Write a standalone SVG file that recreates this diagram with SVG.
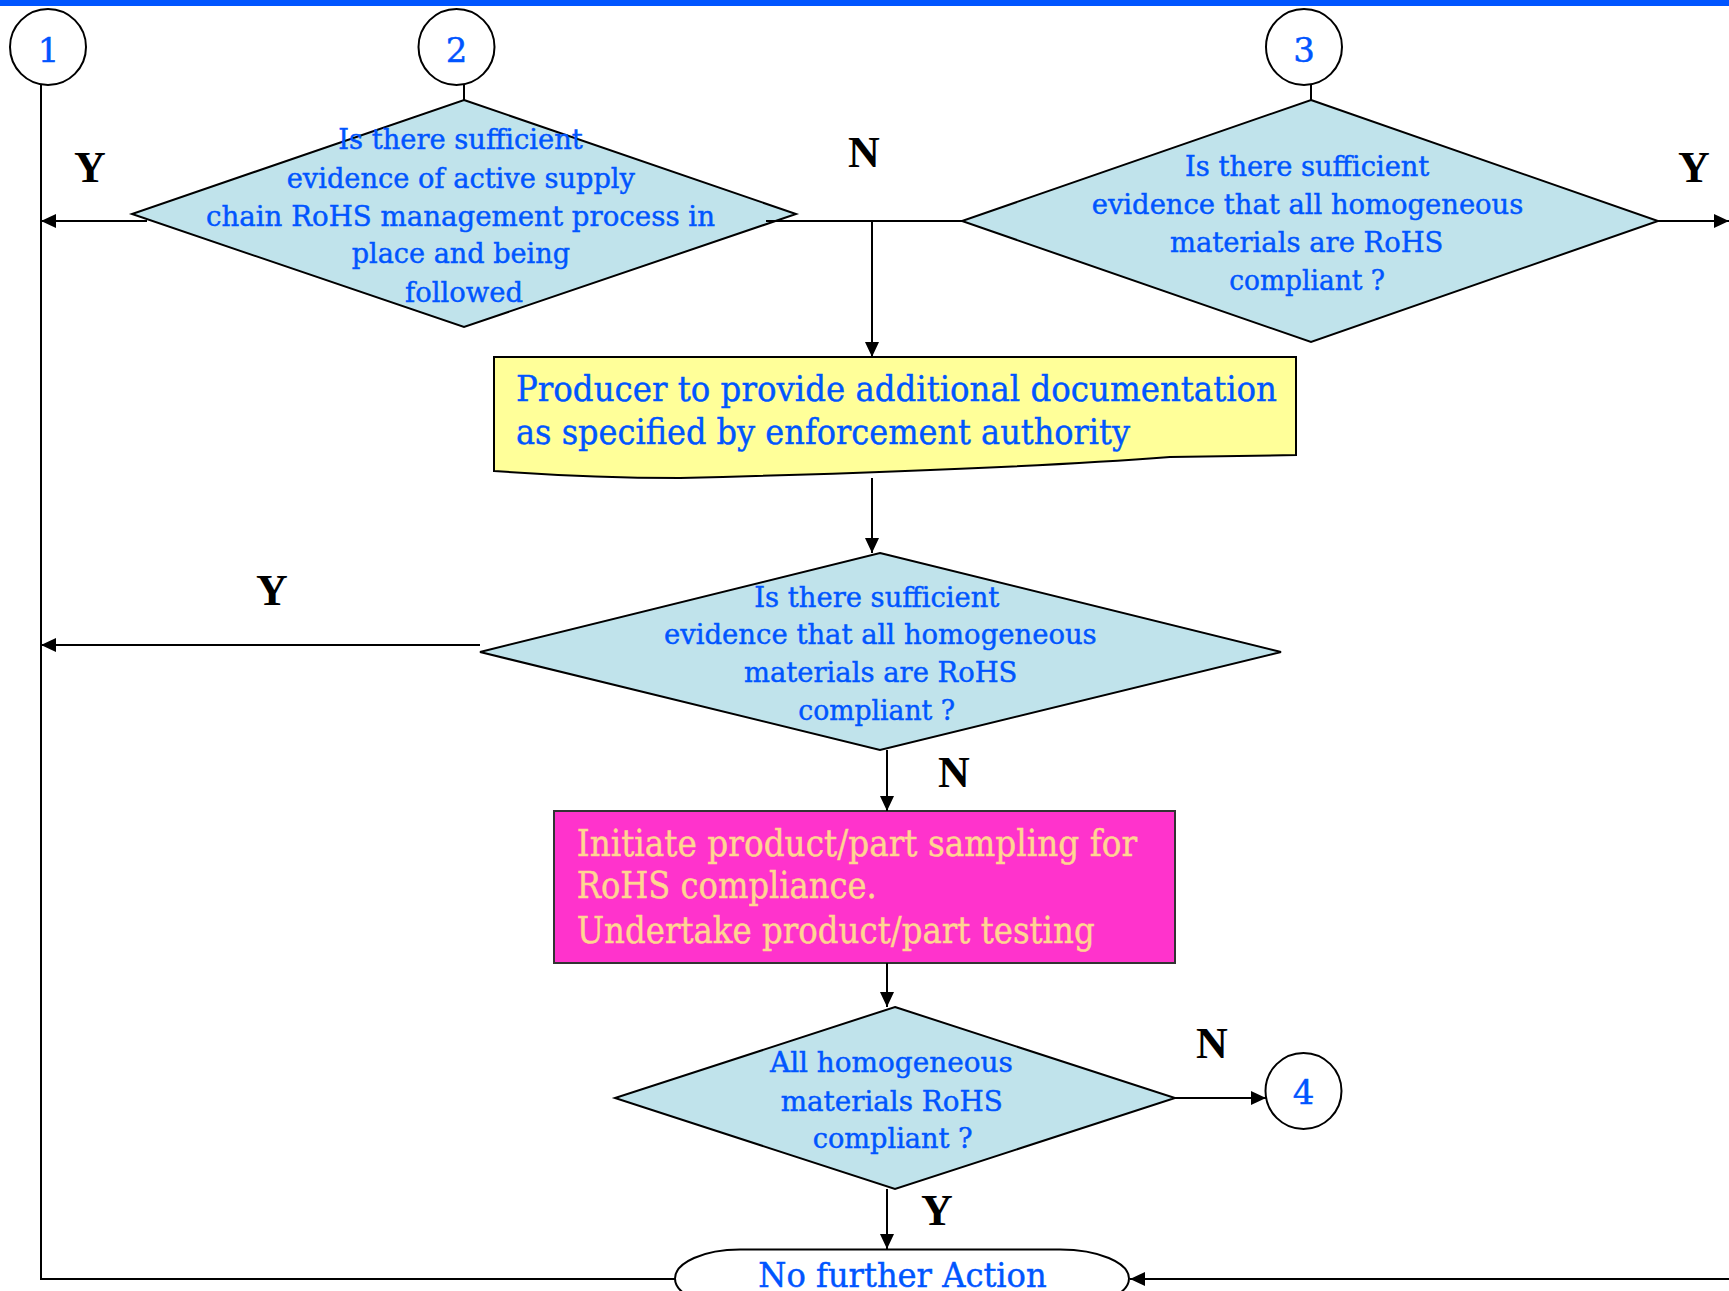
<svg xmlns="http://www.w3.org/2000/svg" width="1729" height="1291" viewBox="0 0 1729 1291">
<style>
  .bg { fill: #ffffff; }
  .dia { fill: #C0E3EB; stroke: #000; stroke-width: 2; }
  .circ { fill: #ffffff; stroke: #000; stroke-width: 2; }
  .t { font-family: "DejaVu Serif", "Liberation Serif", serif; fill: #0055FF; stroke: #0055FF; stroke-width: 0.45; }
  .d { font-size: 27px; }
  .num { font-size: 34px; text-anchor: middle; }
  .pk { font-family: "DejaVu Serif", "Liberation Serif", serif; fill: #FFD591; stroke: #FFD591; stroke-width: 0.45; font-size: 37px; }
  .lbl { font-family: "Liberation Serif", "Times New Roman", serif; font-weight: bold; font-size: 44px; fill: #000; text-anchor: middle; }
  .ln { fill: none; stroke: #000; stroke-width: 2; }
</style>
<defs>
  <marker id="ah" viewBox="0 0 15 14" refX="15" refY="7" markerWidth="15" markerHeight="14" markerUnits="userSpaceOnUse" orient="auto">
    <path d="M0,0 L15,7 L0,14 z" fill="#000"/>
  </marker>
</defs>
<rect class="bg" x="0" y="0" width="1729" height="1291"/>
<rect x="0" y="0" width="1729" height="6" fill="#0055FF"/>

<g id="c1">
  <circle class="circ" cx="48" cy="47" r="38"/>
  <text class="t num" x="48.5" y="62">1</text>
</g>
<g id="c2">
  <circle class="circ" cx="456.5" cy="47" r="38"/>
  <text class="t num" x="456.5" y="62">2</text>
</g>
<g id="c3">
  <circle class="circ" cx="1304" cy="47" r="38"/>
  <text class="t num" x="1304" y="62">3</text>
</g>
<g id="c4">
  <circle class="circ" cx="1303.5" cy="1091" r="38"/>
  <text class="t num" x="1303.5" y="1104">4</text>
</g>

<g id="d1">
  <polygon class="dia" points="464,100 796,214 464,327 132,214"/>
  <text class="t d" x="338.3" y="149" textLength="244.4" lengthAdjust="spacingAndGlyphs">Is there sufficient</text>
  <text class="t d" x="286.7" y="187.7" textLength="348.3" lengthAdjust="spacingAndGlyphs">evidence of active supply</text>
  <text class="t d" x="206" y="225.7" textLength="509" lengthAdjust="spacingAndGlyphs">chain RoHS management process in</text>
  <text class="t d" x="351.7" y="263.3" textLength="218.3" lengthAdjust="spacingAndGlyphs">place and being</text>
  <text class="t d" x="405" y="302.3" textLength="118" lengthAdjust="spacingAndGlyphs">followed</text>
</g>

<g id="d3">
  <polygon class="dia" points="1311,100 1658,221 1311,342 962,221"/>
  <text class="t d" x="1185" y="175.7" textLength="244.3" lengthAdjust="spacingAndGlyphs">Is there sufficient</text>
  <text class="t d" x="1091.7" y="214" textLength="431.6" lengthAdjust="spacingAndGlyphs">evidence that all homogeneous</text>
  <text class="t d" x="1170" y="252.3" textLength="273.3" lengthAdjust="spacingAndGlyphs">materials are RoHS</text>
  <text class="t d" x="1229.3" y="290" textLength="155.7" lengthAdjust="spacingAndGlyphs">compliant ?</text>
</g>

<g id="box1">
  <path d="M494,357 H1296 V455 L1170,457 Q1000,470 680,478 Q590,478 494,471 Z" fill="#FFFF99" stroke="#000" stroke-width="2"/>
  <text class="t" font-size="36" x="516" y="400.7" textLength="761" lengthAdjust="spacingAndGlyphs">Producer to provide additional documentation</text>
  <text class="t" font-size="36" x="516" y="444.3" textLength="614" lengthAdjust="spacingAndGlyphs">as specified by enforcement authority</text>
</g>

<g id="d4">
  <polygon class="dia" points="880,553 1281,652 880,750 480,652"/>
  <text class="t d" x="754.3" y="606.7" textLength="245" lengthAdjust="spacingAndGlyphs">Is there sufficient</text>
  <text class="t d" x="664" y="644" textLength="432.7" lengthAdjust="spacingAndGlyphs">evidence that all homogeneous</text>
  <text class="t d" x="744" y="682.3" textLength="273.3" lengthAdjust="spacingAndGlyphs">materials are RoHS</text>
  <text class="t d" x="798.3" y="720" textLength="156.7" lengthAdjust="spacingAndGlyphs">compliant ?</text>
</g>

<g id="box2">
  <rect x="554" y="811" width="621" height="152" fill="#FF33CC" stroke="#333" stroke-width="2"/>
  <text class="pk" x="576.7" y="856" textLength="560.5" lengthAdjust="spacingAndGlyphs">Initiate product/part sampling for</text>
  <text class="pk" x="576.7" y="898.3" textLength="300" lengthAdjust="spacingAndGlyphs">RoHS compliance.</text>
  <text class="pk" x="576.7" y="943.3" textLength="518" lengthAdjust="spacingAndGlyphs">Undertake product/part testing</text>
</g>

<g id="d5">
  <polygon class="dia" points="895,1007 1175,1098 895,1189 615,1098"/>
  <text class="t d" x="770" y="1072.3" textLength="242.7" lengthAdjust="spacingAndGlyphs">All homogeneous</text>
  <text class="t d" x="780.7" y="1111" textLength="222" lengthAdjust="spacingAndGlyphs">materials RoHS</text>
  <text class="t d" x="812.7" y="1148.3" textLength="160" lengthAdjust="spacingAndGlyphs">compliant ?</text>
</g>

<g id="end">
  <path d="M740,1249.5 H1060 A69,29 0 0 1 1129,1278.5 A69,29 0 0 1 1060,1307.5 H740 A65,29 0 0 1 675,1278.5 A65,29 0 0 1 740,1249.5 Z" fill="#fff" stroke="#000" stroke-width="2"/>
  <text class="t" font-size="33" x="758.3" y="1287" textLength="288.4" lengthAdjust="spacingAndGlyphs">No further Action</text>
</g>

<g id="connectors">
  <polyline class="ln" points="41,84 41,1279 675,1279"/>
  <line class="ln" x1="147" y1="221" x2="41" y2="221" marker-end="url(#ah)"/>
  <line class="ln" x1="464" y1="84" x2="464" y2="100"/>
  <line class="ln" x1="766" y1="221" x2="965" y2="221"/>
  <line class="ln" x1="872" y1="221" x2="872" y2="357" marker-end="url(#ah)"/>
  <line class="ln" x1="1311" y1="84" x2="1311" y2="100"/>
  <line class="ln" x1="1658" y1="221" x2="1729" y2="221" marker-end="url(#ah)"/>
  <line class="ln" x1="872" y1="478" x2="872" y2="553" marker-end="url(#ah)"/>
  <line class="ln" x1="480" y1="645" x2="41" y2="645" marker-end="url(#ah)"/>
  <line class="ln" x1="887" y1="750" x2="887" y2="811" marker-end="url(#ah)"/>
  <line class="ln" x1="887" y1="963" x2="887" y2="1007" marker-end="url(#ah)"/>
  <line class="ln" x1="1175" y1="1098" x2="1266" y2="1098" marker-end="url(#ah)"/>
  <line class="ln" x1="887" y1="1189" x2="887" y2="1249" marker-end="url(#ah)"/>
  <line class="ln" x1="1729" y1="1279" x2="1130" y2="1279" marker-end="url(#ah)"/>
  <text class="lbl" x="90" y="182">Y</text>
  <text class="lbl" x="864" y="167">N</text>
  <text class="lbl" x="1694" y="182">Y</text>
  <text class="lbl" x="272" y="605">Y</text>
  <text class="lbl" x="954" y="787">N</text>
  <text class="lbl" x="1212" y="1058">N</text>
  <text class="lbl" x="937" y="1225">Y</text>
</g>
</svg>
